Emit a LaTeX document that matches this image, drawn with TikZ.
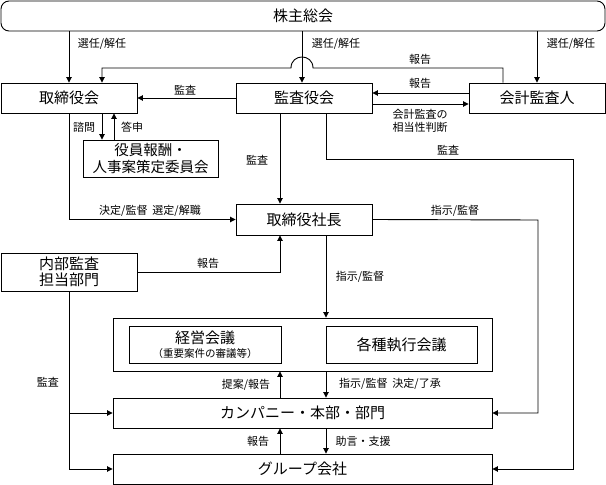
\documentclass[tikz,border=0pt]{standalone}
\usepackage{fontspec}
\setmainfont{Noto Sans CJK JP}
\usetikzlibrary{arrows.meta}
\begin{document}
\begin{tikzpicture}[x=1pt,y=-1pt,
  bx/.style={draw,line width=0.9pt,rectangle,inner sep=0pt,align=center,font=\fontsize{15}{18}\selectfont},
  lbl/.style={inner sep=0pt,align=center,font=\fontsize{11}{13}\selectfont},
  ln/.style={line width=0.9pt},
  arr/.style={line width=0.9pt,-{Triangle[length=5.5pt,width=5.5pt]}}]
\useasboundingbox (0,0) rectangle (606,485);

% boxes
\node[bx,rounded corners=8pt,minimum width=604pt,minimum height=30pt] (sh) at (303,16) {株主総会};
\node[bx,minimum width=136pt,minimum height=30pt] (bd) at (69,98) {取締役会};
\node[bx,minimum width=136pt,minimum height=30pt] (ka) at (304,98) {監査役会};
\node[bx,minimum width=136pt,minimum height=30pt] (ac) at (537,98) {会計監査人};
\node[bx,minimum width=135pt,minimum height=37pt,font=\fontsize{14.5}{17}\selectfont] (cm) at (150.5,158.5) {役員報酬・\\人事案策定委員会};
\node[bx,minimum width=136pt,minimum height=31pt] (pr) at (304,219.5) {取締役社長};
\node[bx,minimum width=136pt,minimum height=38pt,font=\fontsize{15}{16.5}\selectfont] (ia) at (69,272) {内部監査\\担当部門};
\node[bx,minimum width=379pt,minimum height=53pt] (og) at (302.5,344.5) {};
\node[bx,minimum width=152pt,minimum height=37pt,font=\fontsize{15}{15}\selectfont] (km) at (205,344.5) {経営会議\\[-1pt]{\fontsize{10.5}{12}\selectfont （重要案件の審議等）}};
\node[bx,minimum width=151pt,minimum height=37pt] (sk) at (401.5,344.5) {各種執行会議};
\node[bx,minimum width=379pt,minimum height=30pt] (cp) at (302.5,413) {カンパニー・本部・部門};
\node[bx,minimum width=379pt,minimum height=30pt] (gc) at (302.5,469) {グループ会社};

% bend coordinates
\coordinate (r1) at (503,68);
\coordinate (r2) at (313,68);
\coordinate (r3) at (291,68);
\coordinate (r4) at (102,68);
\coordinate (k1) at (573,159);
\coordinate (p1) at (538,220);

% 株主総会 -> 選任/解任
\draw[arr] (sh.south -| bd) -- (bd.north);
\draw[arr] (sh.south -| 302,0) -- (ka.north -| 302,0);
\draw[arr] (sh.south -| ac) -- (ac.north);
\node[lbl] (l1) at (102,44) {選任/解任};
\node[lbl] (l2) at (336,44) {選任/解任};
\node[lbl] (l3) at (571,44) {選任/解任};

% 会計監査人 -> 取締役会 報告 (with hop)
\draw[arr] (ac.north -| r1) -- (r1) -- (r2) .. controls (313,53.3) and (291,53.3) .. (r3) -- (r4) -- (bd.north -| r4);
\node[lbl] (l4) at (420,59) {報告};

% 会計監査人 <-> 監査役会
\draw[arr] (ac.west |- 0,93) -- (ka.east |- 0,93);
\node[lbl] (l5) at (420,83) {報告};
\draw[arr] (ka.east |- 0,104) -- (ac.west |- 0,104);
\node[lbl] (l6) at (420,121) {会計監査の\\相当性判断};

% 監査役会 -> 取締役会
\draw[arr] (ka.west) -- (bd.east);
\node[lbl] (l7) at (185,90) {監査};

% 取締役会 <-> 委員会
\draw[arr] (bd.south -| 102,0) -- (cm.north -| 102,0);
\node[lbl] (l8) at (84,127) {諮問};
\draw[arr] (cm.north -| 114,0) -- (bd.south -| 114,0);
\node[lbl] (l9) at (132,127) {答申};

% 取締役会 -> 取締役社長
\draw[arr] (bd.south) |- (pr.west);
\node[lbl] (l10) at (150,211) {決定/監督\hspace{5pt}選定/解職};

% 監査役会 -> 取締役社長
\draw[arr] (ka.south -| 280,0) -- (pr.north -| 280,0);
\node[lbl] (l11) at (257,160) {監査};

% 監査役会 -> グループ会社
\draw[arr] (ka.south -| 326,0) |- (k1) |- (gc.east);
\node[lbl] (l12) at (448,150) {監査};

% 取締役社長 -> カンパニー
\draw[arr] (pr.east) -- (p1) |- (cp.east);
\node[lbl] (l13) at (455,211) {指示/監督};

% 取締役社長 -> 会議
\draw[arr] (pr.south -| 326,0) -- (og.north -| 326,0);
\node[lbl] (l14) at (360,277) {指示/監督};

% 内部監査 -> 取締役社長
\draw[arr] (ia.east) -| (pr.south -| 280,0);
\node[lbl] (l15) at (208,263) {報告};

% 内部監査 -> カンパニー / グループ会社
\draw[arr] (ia.south) |- (gc.west);
\draw[arr] (ia.south |- cp.west) -- (cp.west);
\node[lbl] (l16) at (48,382) {監査};

% 会議 <-> カンパニー
\draw[arr] (cp.north -| 280,0) -- (og.south -| 280,0);
\node[lbl] (l17) at (246,385) {提案/報告};
\draw[arr] (og.south -| 326,0) -- (cp.north -| 326,0);
\node[lbl] (l18) at (390,384) {指示/監督\hspace{5pt}決定/了承};

% カンパニー <-> グループ会社
\draw[arr] (gc.north -| 280,0) -- (cp.south -| 280,0);
\node[lbl] (l19) at (258,441) {報告};
\draw[arr] (cp.south -| 326,0) -- (gc.north -| 326,0);
\node[lbl] (l20) at (363,441) {助言・支援};
\end{tikzpicture}
\end{document}
